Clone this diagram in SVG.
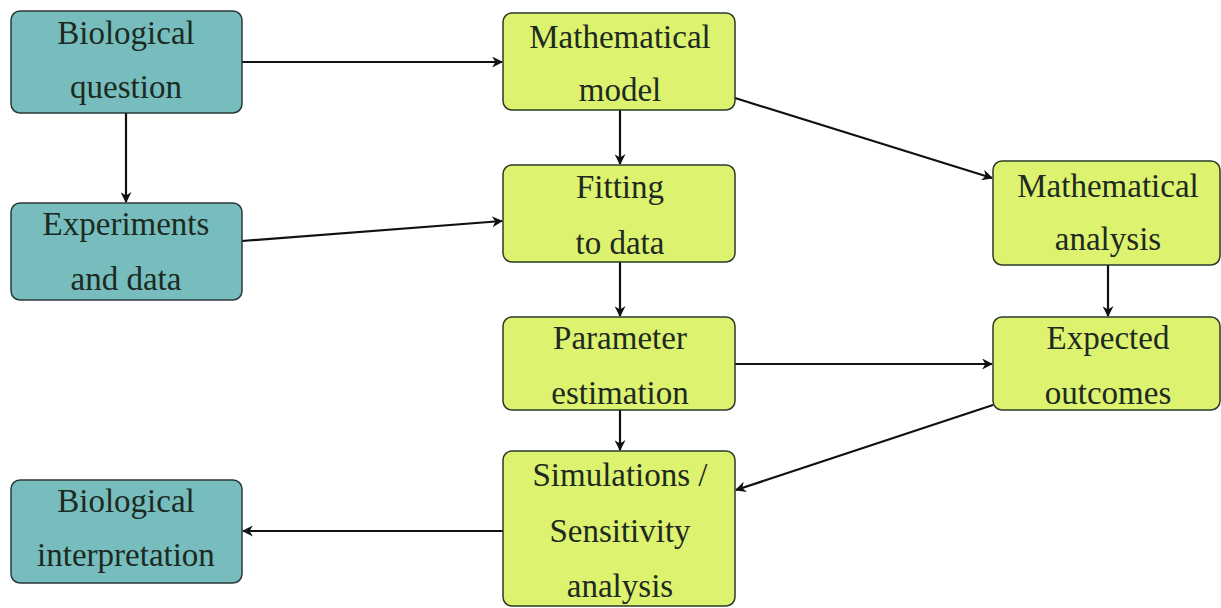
<svg xmlns="http://www.w3.org/2000/svg" width="1221" height="608" viewBox="0 0 1221 608">
<style>
.t{fill:#77bdbe;stroke:#2a3a3a;stroke-width:1.5}
.y{fill:#ddf26e;stroke:#2a3a2a;stroke-width:1.5}
text{font-family:'Liberation Serif','Times New Roman','DejaVu Serif',serif;font-size:33px;fill:#1c2a22;text-anchor:middle;dominant-baseline:central}
.c{stroke:#111;stroke-width:2.2;fill:none;marker-end:url(#a)}
</style>
<defs>
<marker id="a" viewBox="0 0 10 10" refX="9" refY="5" markerWidth="11" markerHeight="11" markerUnits="userSpaceOnUse" orient="auto">
<path d="M0,0 L10,5 L0,10 L3,5 Z" fill="#111"/>
</marker>
</defs>
<rect width="1221" height="608" fill="#fff"/>
<g id="connectors">
<line class="c" x1="242" y1="62" x2="502" y2="62"/>
<line class="c" x1="126" y1="113" x2="126" y2="202"/>
<line class="c" x1="242" y1="241" x2="502" y2="221"/>
<line class="c" x1="620" y1="110" x2="620" y2="164"/>
<line class="c" x1="735" y1="98" x2="992" y2="178"/>
<line class="c" x1="620" y1="262" x2="620" y2="316"/>
<line class="c" x1="1108" y1="265" x2="1108" y2="316"/>
<line class="c" x1="735" y1="364" x2="992" y2="364"/>
<line class="c" x1="620" y1="410" x2="620" y2="450"/>
<line class="c" x1="993" y1="405" x2="736" y2="490"/>
<line class="c" x1="503" y1="531" x2="243" y2="531"/>
</g>
<g id="bio-question"><rect class="t" x="11" y="11" width="231" height="102" rx="9"/><text x="126" y="33">Biological</text><text x="126" y="87">question</text></g>
<g id="experiments"><rect class="t" x="11" y="203" width="231" height="97" rx="9"/><text x="126" y="224">Experiments</text><text x="126" y="279">and data</text></g>
<g id="bio-interpretation"><rect class="t" x="11" y="480" width="231" height="103" rx="9"/><text x="126" y="501">Biological</text><text x="126" y="555">interpretation</text></g>
<g id="math-model"><rect class="y" x="503" y="13" width="232" height="97" rx="9"/><text x="620" y="37">Mathematical</text><text x="620" y="90">model</text></g>
<g id="fitting"><rect class="y" x="503" y="165" width="232" height="97" rx="9"/><text x="620" y="187">Fitting</text><text x="620" y="243">to data</text></g>
<g id="parameter"><rect class="y" x="503" y="317" width="232" height="93" rx="9"/><text x="620" y="338">Parameter</text><text x="620" y="393">estimation</text></g>
<g id="simulations"><rect class="y" x="503" y="451" width="232" height="155" rx="9"/><text x="620" y="475">Simulations /</text><text x="620" y="531">Sensitivity</text><text x="620" y="586">analysis</text></g>
<g id="math-analysis"><rect class="y" x="993" y="161" width="227" height="104" rx="9"/><text x="1108" y="186">Mathematical</text><text x="1108" y="239">analysis</text></g>
<g id="expected"><rect class="y" x="993" y="317" width="227" height="93" rx="9"/><text x="1108" y="338">Expected</text><text x="1108" y="393">outcomes</text></g>
</svg>
